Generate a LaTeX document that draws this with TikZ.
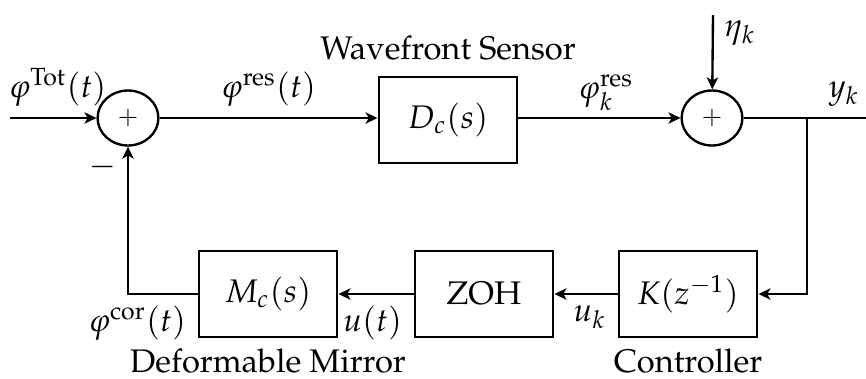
\documentclass[tikz,border=0pt]{standalone}
\usepackage[T1]{fontenc}
\usepackage{mathpazo}
\usepackage{tikz}
\usetikzlibrary{arrows.meta,positioning,shapes.geometric}

\begin{document}
\begin{tikzpicture}[
  x=0.01118cm, y=-0.01118cm, font=\fontsize{10.4}{12.5}\selectfont,
  >={Stealth[length=3.8pt, width=3.6pt, inset=1pt]},
  block/.style={draw, line width=0.75pt, minimum width=1.55cm, minimum height=0.96cm, inner sep=2pt},
  sum/.style={ellipse, draw, line width=0.75pt, minimum width=0.68cm, minimum height=0.615cm, inner sep=0pt,
              font=\footnotesize},
  sig/.style={->, line width=0.75pt},
  wire/.style={line width=0.75pt},
  caption/.style={inner sep=1pt},
]
\useasboundingbox (0,0) rectangle (866,378);
\coordinate (in) at (10,118);
\coordinate (noise) at (713,15);
\coordinate (out) at (866,118);
\coordinate (branch) at (807,118);
\node[sum] (sumin) at (128,118) {$+$};
\node[block] (wfs) at (448,120) {$D_c(s)$};
\node[sum] (sumout) at (712,118) {$+$};
\node[block] (ctrl) at (688,294) {$K(z^{-1})$};
\node[block] (zoh) at (484,294) {ZOH};
\node[block] (dm) at (268,294) {$M_c(s)$};
\node[caption, above=1.3mm of wfs] (wfslab) {Wavefront Sensor};
\node[caption, below=0.8mm of dm] (dmlab) {Deformable Mirror};
\node[caption, below=0.8mm of ctrl] (ctrllab) {Controller};
\draw[sig] (in) -- node[above, pos=0.55]{$\varphi^{\mathrm{Tot}}(t)$} (sumin);
\draw[sig] (sumin) -- node[above]{$\varphi^{\mathrm{res}}(t)$} (wfs.west |- sumin);
\draw[sig] (wfs.east |- sumout) -- node[above, pos=0.54, inner sep=2pt]{$\varphi_k^{\mathrm{res}}$} (sumout);
\draw[sig] (noise) -- node[right, pos=0.25]{$\eta_k$} (sumout);
\draw[wire] (sumout) -- node[above, pos=0.82]{$y_k$} (out);
\draw[sig] (branch) |- (ctrl);
\draw[sig] (ctrl) -- node[at start, below left]{$u_k$} (zoh);
\draw[sig] (zoh) -- node[at start, below left]{$u(t)$} (dm);
\draw[sig] (dm) -| node[at start, below left]{$\varphi^{\mathrm{cor}}(t)$} node[pos=0.93, left]{$-$} (sumin);
\end{tikzpicture}
\end{document}
